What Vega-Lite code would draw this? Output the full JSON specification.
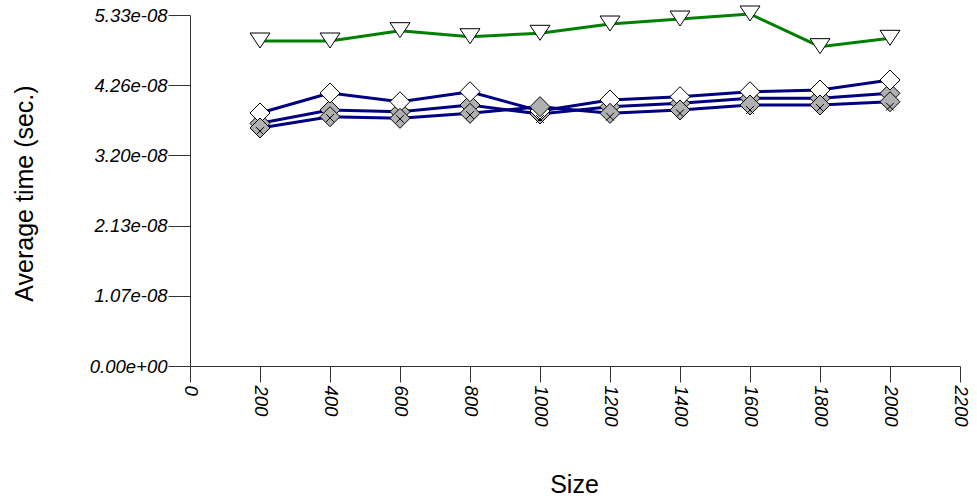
{
  "$schema": "https://vega.github.io/schema/vega-lite/v6.json",
  "autosize": {"type": "none"},
  "width": 770,
  "height": 351,
  "padding": {"left": 190, "top": 15, "right": 17, "bottom": 134},
  "background": "white",
  "config": {
    "view": {"stroke": null},
    "axis": {
      "grid": false,
      "labelFont": "Liberation Sans",
      "labelFontStyle": "italic",
      "labelFontSize": 18.5,
      "labelColor": "black",
      "titleFont": "Liberation Sans",
      "titleFontWeight": "normal",
      "titleFontSize": 25,
      "titleColor": "black",
      "domainColor": "#333",
      "tickColor": "#333"
    }
  },
  "data": {
    "values": [
      {"size": 200, "time": 3.842e-8, "series": "white"},
      {"size": 400, "time": 4.146e-8, "series": "white"},
      {"size": 600, "time": 4.013e-8, "series": "white"},
      {"size": 800, "time": 4.165e-8, "series": "white"},
      {"size": 1000, "time": 3.872e-8, "series": "white"},
      {"size": 1200, "time": 4.039e-8, "series": "white"},
      {"size": 1400, "time": 4.089e-8, "series": "white"},
      {"size": 1600, "time": 4.165e-8, "series": "white"},
      {"size": 1800, "time": 4.191e-8, "series": "white"},
      {"size": 2000, "time": 4.343e-8, "series": "white"},
      {"size": 200, "time": 3.685e-8, "series": "grayA"},
      {"size": 400, "time": 3.887e-8, "series": "grayA"},
      {"size": 600, "time": 3.862e-8, "series": "grayA"},
      {"size": 800, "time": 3.963e-8, "series": "grayA"},
      {"size": 1000, "time": 3.827e-8, "series": "grayA"},
      {"size": 1200, "time": 3.938e-8, "series": "grayA"},
      {"size": 1400, "time": 3.989e-8, "series": "grayA"},
      {"size": 1600, "time": 4.065e-8, "series": "grayA"},
      {"size": 1800, "time": 4.065e-8, "series": "grayA"},
      {"size": 2000, "time": 4.141e-8, "series": "grayA"},
      {"size": 200, "time": 3.614e-8, "series": "grayB"},
      {"size": 400, "time": 3.786e-8, "series": "grayB"},
      {"size": 600, "time": 3.761e-8, "series": "grayB"},
      {"size": 800, "time": 3.837e-8, "series": "grayB"},
      {"size": 1000, "time": 3.938e-8, "series": "grayB"},
      {"size": 1200, "time": 3.837e-8, "series": "grayB"},
      {"size": 1400, "time": 3.887e-8, "series": "grayB"},
      {"size": 1600, "time": 3.963e-8, "series": "grayB"},
      {"size": 1800, "time": 3.963e-8, "series": "grayB"},
      {"size": 2000, "time": 4.013e-8, "series": "grayB"},
      {"size": 200, "time": 3.568e-8, "series": "x"},
      {"size": 400, "time": 3.766e-8, "series": "x"},
      {"size": 600, "time": 3.751e-8, "series": "x"},
      {"size": 800, "time": 3.811e-8, "series": "x"},
      {"size": 1000, "time": 3.751e-8, "series": "x"},
      {"size": 1200, "time": 3.786e-8, "series": "x"},
      {"size": 1400, "time": 3.837e-8, "series": "x"},
      {"size": 1600, "time": 3.887e-8, "series": "x"},
      {"size": 1800, "time": 3.918e-8, "series": "x"},
      {"size": 2000, "time": 3.938e-8, "series": "x"},
      {"size": 200, "time": 4.935e-8, "series": "green"},
      {"size": 400, "time": 4.935e-8, "series": "green"},
      {"size": 600, "time": 5.092e-8, "series": "green"},
      {"size": 800, "time": 5.000e-8, "series": "green"},
      {"size": 1000, "time": 5.052e-8, "series": "green"},
      {"size": 1200, "time": 5.193e-8, "series": "green"},
      {"size": 1400, "time": 5.269e-8, "series": "green"},
      {"size": 1600, "time": 5.345e-8, "series": "green"},
      {"size": 1800, "time": 4.849e-8, "series": "green"},
      {"size": 2000, "time": 4.976e-8, "series": "green"}
    ]
  },
  "encoding": {
    "x": {
      "field": "size",
      "type": "quantitative",
      "scale": {"domain": [0, 2200], "nice": false, "zero": false},
      "axis": {
        "title": "Size",
        "values": [0, 200, 400, 600, 800, 1000, 1200, 1400, 1600, 1800, 2000, 2200],
        "labelAngle": 90,
        "labelAlign": "left",
        "labelBaseline": "middle",
        "tickSize": 16,
        "labelPadding": 3,
        "format": "d",
        "labelOverlap": false,
        "labelFlush": false,
        "titleX": 384,
        "titleY": 126,
        "titleBaseline": "alphabetic"
      }
    },
    "y": {
      "field": "time",
      "type": "quantitative",
      "scale": {"domain": [0, 5.33e-8], "nice": false, "zero": true},
      "axis": {
        "title": "Average time (sec.)",
        "values": [0, 1.066e-8, 2.132e-8, 3.198e-8, 4.264e-8, 5.33e-8],
        "labelExpr": "replace(replace(format(datum.value, '.2e'), regexp('e-(\\\\d)$'), 'e-0$1'), regexp('e\\\\+(\\\\d)$'), 'e+0$1')",
        "tickSize": 22,
        "labelPadding": 1,
        "labelOverlap": false,
        "labelFlush": false,
        "titleX": -153,
        "titleY": 178
      }
    }
  },
  "layer": [
    {
      "transform": [{"filter": "datum.series === 'grayA'"}],
      "mark": {"type": "line", "color": "#000080", "strokeWidth": 3}
    },
    {
      "transform": [{"filter": "datum.series === 'grayA'"}],
      "mark": {"type": "point", "shape": "diamond", "filled": true, "fill": "#b0b0b0", "stroke": "black", "strokeWidth": 1, "opacity": 1, "size": 400}
    },
    {
      "transform": [{"filter": "datum.series === 'white'"}],
      "mark": {"type": "line", "color": "#000080", "strokeWidth": 3}
    },
    {
      "transform": [{"filter": "datum.series === 'white'"}],
      "mark": {"type": "point", "shape": "diamond", "filled": true, "fill": "white", "stroke": "black", "strokeWidth": 1, "opacity": 1, "size": 400}
    },
    {
      "transform": [{"filter": "datum.series === 'grayB'"}],
      "mark": {"type": "line", "color": "#000080", "strokeWidth": 3}
    },
    {
      "transform": [{"filter": "datum.series === 'grayB'"}],
      "mark": {"type": "point", "shape": "diamond", "filled": true, "fill": "#b0b0b0", "stroke": "black", "strokeWidth": 1, "opacity": 1, "size": 400}
    },
    {
      "transform": [{"filter": "datum.series === 'x'"}],
      "mark": {"type": "point", "shape": "M-1,-1L1,1M-1,1L1,-1", "filled": false, "stroke": "black", "strokeWidth": 1, "opacity": 1, "size": 60}
    },
    {
      "transform": [{"filter": "datum.series === 'green'"}],
      "mark": {"type": "line", "color": "#008000", "strokeWidth": 3}
    },
    {
      "transform": [{"filter": "datum.series === 'green'"}],
      "mark": {"type": "point", "shape": "M-1,-0.8L1,-0.8L0,0.7Z", "filled": true, "fill": "white", "stroke": "black", "strokeWidth": 1, "opacity": 1, "size": 400}
    }
  ]
}
